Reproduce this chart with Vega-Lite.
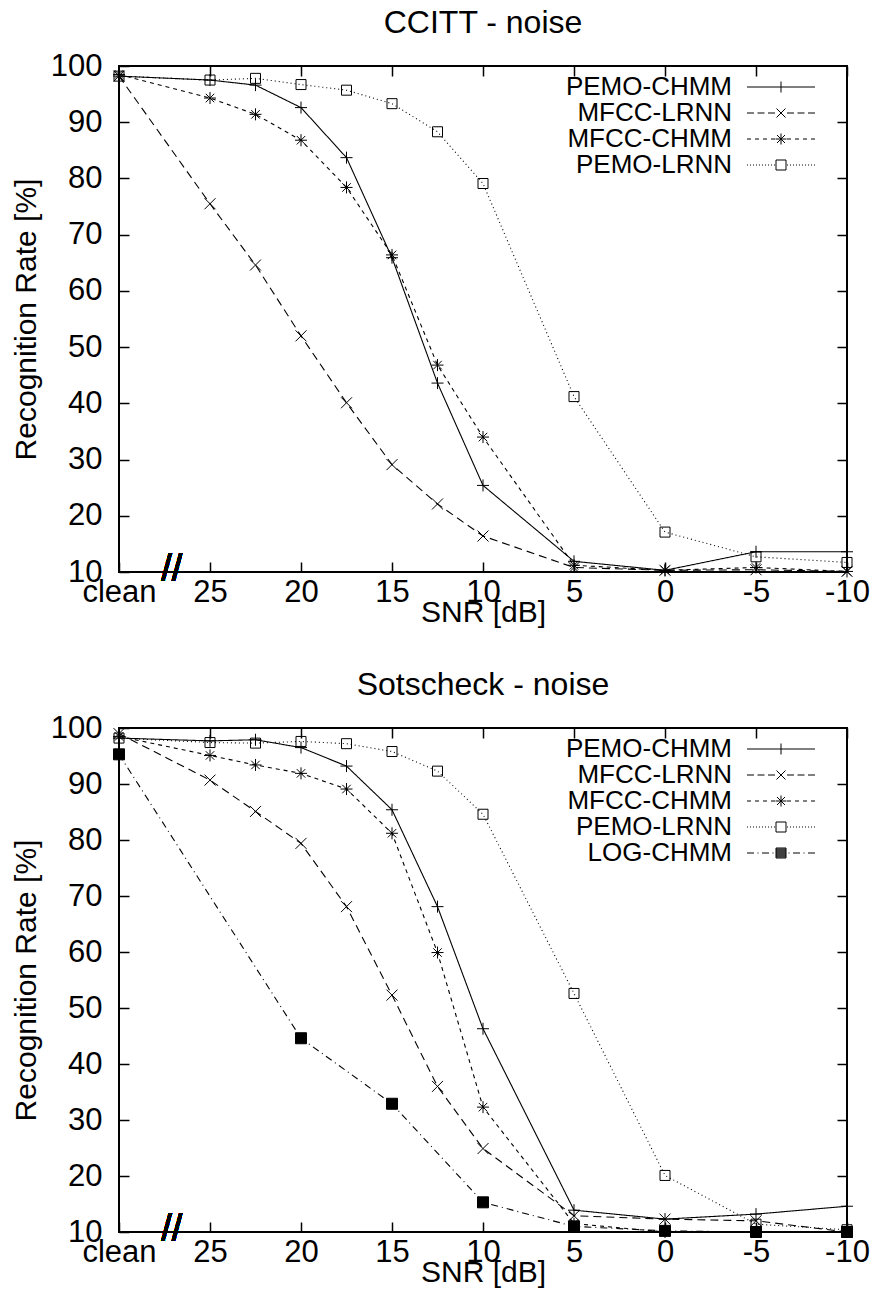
{
  "$schema": "https://vega.github.io/schema/vega-lite/v6.json",
  "padding": {"left": 10, "top": 6, "right": 10, "bottom": 5},
  "background": "white",
  "datasets": {
    "ccitt": [
      {"series": "PEMO-CHMM", "snr": 30, "rate": 98.2},
      {"series": "PEMO-CHMM", "snr": 25, "rate": 97.5},
      {"series": "PEMO-CHMM", "snr": 22.5, "rate": 96.6},
      {"series": "PEMO-CHMM", "snr": 20, "rate": 92.6},
      {"series": "PEMO-CHMM", "snr": 17.5, "rate": 83.7},
      {"series": "PEMO-CHMM", "snr": 15, "rate": 65.9},
      {"series": "PEMO-CHMM", "snr": 12.5, "rate": 43.6},
      {"series": "PEMO-CHMM", "snr": 10, "rate": 25.4},
      {"series": "PEMO-CHMM", "snr": 5, "rate": 11.9},
      {"series": "PEMO-CHMM", "snr": 0, "rate": 10.3},
      {"series": "PEMO-CHMM", "snr": -5, "rate": 13.6},
      {"series": "PEMO-CHMM", "snr": -10, "rate": 13.6},
      {"series": "MFCC-LRNN", "snr": 30, "rate": 98.2},
      {"series": "MFCC-LRNN", "snr": 25, "rate": 75.5},
      {"series": "MFCC-LRNN", "snr": 22.5, "rate": 64.6},
      {"series": "MFCC-LRNN", "snr": 20, "rate": 52.0},
      {"series": "MFCC-LRNN", "snr": 17.5, "rate": 40.1},
      {"series": "MFCC-LRNN", "snr": 15, "rate": 29.1},
      {"series": "MFCC-LRNN", "snr": 12.5, "rate": 22.1},
      {"series": "MFCC-LRNN", "snr": 10, "rate": 16.4},
      {"series": "MFCC-LRNN", "snr": 5, "rate": 10.8},
      {"series": "MFCC-LRNN", "snr": 0, "rate": 10.3},
      {"series": "MFCC-LRNN", "snr": -5, "rate": 10.4},
      {"series": "MFCC-LRNN", "snr": -10, "rate": 10.1},
      {"series": "MFCC-CHMM", "snr": 30, "rate": 98.5},
      {"series": "MFCC-CHMM", "snr": 25, "rate": 94.3},
      {"series": "MFCC-CHMM", "snr": 22.5, "rate": 91.4},
      {"series": "MFCC-CHMM", "snr": 20, "rate": 86.8},
      {"series": "MFCC-CHMM", "snr": 17.5, "rate": 78.4},
      {"series": "MFCC-CHMM", "snr": 15, "rate": 66.4},
      {"series": "MFCC-CHMM", "snr": 12.5, "rate": 46.8},
      {"series": "MFCC-CHMM", "snr": 10, "rate": 34.0},
      {"series": "MFCC-CHMM", "snr": 5, "rate": 11.2},
      {"series": "MFCC-CHMM", "snr": 0, "rate": 10.3},
      {"series": "MFCC-CHMM", "snr": -5, "rate": 10.8},
      {"series": "MFCC-CHMM", "snr": -10, "rate": 10.1},
      {"series": "PEMO-LRNN", "snr": 30, "rate": 98.2},
      {"series": "PEMO-LRNN", "snr": 25, "rate": 97.5},
      {"series": "PEMO-LRNN", "snr": 22.5, "rate": 97.8},
      {"series": "PEMO-LRNN", "snr": 20, "rate": 96.7},
      {"series": "PEMO-LRNN", "snr": 17.5, "rate": 95.7},
      {"series": "PEMO-LRNN", "snr": 15, "rate": 93.3},
      {"series": "PEMO-LRNN", "snr": 12.5, "rate": 88.3},
      {"series": "PEMO-LRNN", "snr": 10, "rate": 79.1},
      {"series": "PEMO-LRNN", "snr": 5, "rate": 41.2},
      {"series": "PEMO-LRNN", "snr": 0, "rate": 17.1},
      {"series": "PEMO-LRNN", "snr": -5, "rate": 12.7},
      {"series": "PEMO-LRNN", "snr": -10, "rate": 11.7}
    ],
    "sotscheck": [
      {"series": "PEMO-CHMM", "snr": 30, "rate": 98.2},
      {"series": "PEMO-CHMM", "snr": 25, "rate": 97.7},
      {"series": "PEMO-CHMM", "snr": 22.5, "rate": 97.9},
      {"series": "PEMO-CHMM", "snr": 20, "rate": 96.5},
      {"series": "PEMO-CHMM", "snr": 17.5, "rate": 93.2},
      {"series": "PEMO-CHMM", "snr": 15, "rate": 85.4},
      {"series": "PEMO-CHMM", "snr": 12.5, "rate": 68.1},
      {"series": "PEMO-CHMM", "snr": 10, "rate": 46.3},
      {"series": "PEMO-CHMM", "snr": 5, "rate": 13.9},
      {"series": "PEMO-CHMM", "snr": 0, "rate": 12.3},
      {"series": "PEMO-CHMM", "snr": -5, "rate": 13.2},
      {"series": "PEMO-CHMM", "snr": -10, "rate": 14.6},
      {"series": "MFCC-LRNN", "snr": 30, "rate": 99.0},
      {"series": "MFCC-LRNN", "snr": 25, "rate": 90.7},
      {"series": "MFCC-LRNN", "snr": 22.5, "rate": 85.1},
      {"series": "MFCC-LRNN", "snr": 20, "rate": 79.4},
      {"series": "MFCC-LRNN", "snr": 17.5, "rate": 68.1},
      {"series": "MFCC-LRNN", "snr": 15, "rate": 52.3},
      {"series": "MFCC-LRNN", "snr": 12.5, "rate": 36.0},
      {"series": "MFCC-LRNN", "snr": 10, "rate": 24.9},
      {"series": "MFCC-LRNN", "snr": 5, "rate": 12.9},
      {"series": "MFCC-LRNN", "snr": 0, "rate": 12.3},
      {"series": "MFCC-LRNN", "snr": -5, "rate": 12.0},
      {"series": "MFCC-LRNN", "snr": -10, "rate": 10.0},
      {"series": "MFCC-CHMM", "snr": 30, "rate": 98.5},
      {"series": "MFCC-CHMM", "snr": 25, "rate": 95.1},
      {"series": "MFCC-CHMM", "snr": 22.5, "rate": 93.4},
      {"series": "MFCC-CHMM", "snr": 20, "rate": 91.9},
      {"series": "MFCC-CHMM", "snr": 17.5, "rate": 89.1},
      {"series": "MFCC-CHMM", "snr": 15, "rate": 81.2},
      {"series": "MFCC-CHMM", "snr": 12.5, "rate": 59.9},
      {"series": "MFCC-CHMM", "snr": 10, "rate": 32.3},
      {"series": "MFCC-CHMM", "snr": 5, "rate": 11.5},
      {"series": "MFCC-CHMM", "snr": 0, "rate": 10.0},
      {"series": "MFCC-CHMM", "snr": -5, "rate": 10.0},
      {"series": "MFCC-CHMM", "snr": -10, "rate": 10.0},
      {"series": "PEMO-LRNN", "snr": 30, "rate": 98.2},
      {"series": "PEMO-LRNN", "snr": 25, "rate": 97.4},
      {"series": "PEMO-LRNN", "snr": 22.5, "rate": 97.3},
      {"series": "PEMO-LRNN", "snr": 20, "rate": 97.6},
      {"series": "PEMO-LRNN", "snr": 17.5, "rate": 97.2},
      {"series": "PEMO-LRNN", "snr": 15, "rate": 95.8},
      {"series": "PEMO-LRNN", "snr": 12.5, "rate": 92.3},
      {"series": "PEMO-LRNN", "snr": 10, "rate": 84.6},
      {"series": "PEMO-LRNN", "snr": 5, "rate": 52.6},
      {"series": "PEMO-LRNN", "snr": 0, "rate": 20.1},
      {"series": "PEMO-LRNN", "snr": -5, "rate": 11.4},
      {"series": "PEMO-LRNN", "snr": -10, "rate": 10.4},
      {"series": "LOG-CHMM", "snr": 30, "rate": 95.3},
      {"series": "LOG-CHMM", "snr": 20, "rate": 44.6},
      {"series": "LOG-CHMM", "snr": 15, "rate": 32.9},
      {"series": "LOG-CHMM", "snr": 10, "rate": 15.3},
      {"series": "LOG-CHMM", "snr": 5, "rate": 11.0},
      {"series": "LOG-CHMM", "snr": 0, "rate": 10.2},
      {"series": "LOG-CHMM", "snr": -5, "rate": 10.0},
      {"series": "LOG-CHMM", "snr": -10, "rate": 10.0}
    ]
  },
  "vconcat": [
    {
      "title": {"text": "CCITT - noise", "offset": -15, "baseline": "alphabetic"},
      "width": 728,
      "height": 506,
      "data": {"name": "ccitt"},
      "layer": [
        {
          "mark": {"type": "line", "color": "black", "strokeWidth": 1.1},
          "encoding": {
            "x": {"field": "snr", "type": "quantitative", "scale": {"domain": [30, -10], "nice": false, "zero": false},
              "axis": {"orient": "bottom", "values": [30, 25, 20, 15, 10, 5, 0, -5, -10], "labelExpr": "datum.value == 30 ? 'clean' : toString(datum.value)", "title": "SNR [dB]", "tickSize": -10, "tickWidth": 1.5, "labelPadding": 15, "labelFontSize": 31, "titleFontSize": 30, "titlePadding": -10, "labelFlush": false, "labelOverlap": false, "minExtent": 0}},
            "y": {"field": "rate", "type": "quantitative", "scale": {"domain": [10, 100], "nice": false, "zero": false},
              "axis": {"orient": "left", "values": [10, 20, 30, 40, 50, 60, 70, 80, 90, 100], "title": "Recognition Rate [%]", "tickSize": -10, "tickWidth": 1.5, "labelPadding": 27, "labelFontSize": 31, "titleFontSize": 30, "titlePadding": 9, "labelFlush": false, "labelOverlap": false, "minExtent": 0}},
            "strokeDash": {"field": "series", "type": "nominal", "legend": null,
              "scale": {"domain": ["PEMO-CHMM", "MFCC-LRNN", "MFCC-CHMM", "PEMO-LRNN"], "range": [[1, 0], [8, 5], [4, 4], [1, 3]]}}
          }
        },
        {
          "mark": {"type": "point", "filled": false, "color": "black", "strokeWidth": 1, "size": 100, "opacity": 1},
          "encoding": {
            "x": {"field": "snr", "type": "quantitative", "axis": {"orient": "top", "values": [25, 20, 15, 10, 5, 0, -5, -10], "labels": false, "title": null, "tickSize": -10, "tickWidth": 1.5, "minExtent": 0, "maxExtent": 0}},
            "y": {"field": "rate", "type": "quantitative", "axis": {"orient": "right", "values": [20, 30, 40, 50, 60, 70, 80, 90], "labels": false, "title": null, "tickSize": -10, "tickWidth": 1.5, "minExtent": 0, "maxExtent": 0}},
            "shape": {"field": "series", "type": "nominal", "legend": null,
              "scale": {"domain": ["PEMO-CHMM", "MFCC-LRNN", "MFCC-CHMM", "PEMO-LRNN"],
                "range": ["M-1.2,0H1.2M0,-1.2V1.2", "M-1.1,-1.1L1.1,1.1M-1.1,1.1L1.1,-1.1", "M-1.2,0H1.2M0,-1.2V1.2M-0.85,-0.85L0.85,0.85M-0.85,0.85L0.85,-0.85", "M-1,-1H1V1H-1Z"]}}
          }
        },
        {
          "transform": [{"filter": "false"}],
          "mark": {"type": "point", "filled": false, "color": "black", "strokeWidth": 1, "opacity": 1},
          "encoding": {
            "x": {"field": "snr", "type": "quantitative", "axis": null},
            "y": {"field": "rate", "type": "quantitative", "axis": null},
            "shape": {"field": "series", "type": "nominal",
              "scale": {"domain": ["PEMO-CHMM", "MFCC-LRNN", "MFCC-CHMM", "PEMO-LRNN"],
                "range": [
                  "M-3.4,0H3.4M0,-0.55V0.55M5.6,0",
                  "M-3.4,0H-2.7M-2.35,0H-1.65M-1.3,0H-0.6M0.6,0H1.3M1.65,0H2.35M2.7,0H3.4M-0.45,-0.45L0.45,0.45M-0.45,0.45L0.45,-0.45M5.6,0",
                  "M-3.4,0H-3M-2.6,0H-2.2M-1.8,0H-1.4M-1,0H-0.6M0.6,0H1M1.4,0H1.8M2.2,0H2.6M3,0H3.4M-0.55,0H0.55M0,-0.55V0.55M-0.4,-0.4L0.4,0.4M-0.4,0.4L0.4,-0.4M5.6,0",
                  "M-3.4,0h0.1M-3.1,0h0.1M-2.8,0h0.1M-2.5,0h0.1M-2.2,0h0.1M-1.9,0h0.1M-1.6,0h0.1M-1.3,0h0.1M-1,0h0.1M-0.7,0h0.1M0.6,0h0.1M0.9,0h0.1M1.2,0h0.1M1.5,0h0.1M1.8,0h0.1M2.1,0h0.1M2.4,0h0.1M2.7,0h0.1M3,0h0.1M3.3,0h0.1M-0.5,-0.5H0.5V0.5H-0.5ZM5.6,0"
                ]},
              "legend": {"orient": "top-right", "offset": 8, "title": null, "symbolSize": 400, "symbolStrokeWidth": 1, "symbolStrokeColor": "black", "labelFontSize": 26, "labelAlign": "right", "labelOffset": -62, "rowPadding": -3, "padding": 0, "labelLimit": 0, "labelColor": "black"}}
          }
        },
        {
          "mark": {"type": "text", "text": "//", "fontSize": 38, "color": "black", "baseline": "middle", "align": "center", "dy": -2},
          "encoding": {
            "x": {"datum": 27.1, "type": "quantitative", "axis": null},
            "y": {"datum": 10, "type": "quantitative", "axis": null}
          }
        }
      ],
      "resolve": {"scale": {"shape": "independent"}, "axis": {"x": "independent", "y": "independent"}, "legend": {"shape": "independent"}}
    },
    {
      "title": {"text": "Sotscheck - noise", "offset": -15, "baseline": "alphabetic"},
      "width": 728,
      "height": 504,
      "data": {"name": "sotscheck"},
      "layer": [
        {
          "mark": {"type": "line", "color": "black", "strokeWidth": 1.1},
          "encoding": {
            "x": {"field": "snr", "type": "quantitative", "scale": {"domain": [30, -10], "nice": false, "zero": false},
              "axis": {"orient": "bottom", "values": [30, 25, 20, 15, 10, 5, 0, -5, -10], "labelExpr": "datum.value == 30 ? 'clean' : toString(datum.value)", "title": "SNR [dB]", "tickSize": -10, "tickWidth": 1.5, "labelPadding": 15, "labelFontSize": 31, "titleFontSize": 30, "titlePadding": -10, "labelFlush": false, "labelOverlap": false, "minExtent": 0}},
            "y": {"field": "rate", "type": "quantitative", "scale": {"domain": [10, 100], "nice": false, "zero": false},
              "axis": {"orient": "left", "values": [10, 20, 30, 40, 50, 60, 70, 80, 90, 100], "title": "Recognition Rate [%]", "tickSize": -10, "tickWidth": 1.5, "labelPadding": 27, "labelFontSize": 31, "titleFontSize": 30, "titlePadding": 9, "labelFlush": false, "labelOverlap": false, "minExtent": 0}},
            "strokeDash": {"field": "series", "type": "nominal", "legend": null,
              "scale": {"domain": ["PEMO-CHMM", "MFCC-LRNN", "MFCC-CHMM", "PEMO-LRNN", "LOG-CHMM"], "range": [[1, 0], [8, 5], [4, 4], [1, 3], [7, 4, 1, 4]]}}
          }
        },
        {
          "mark": {"type": "point", "filled": false, "color": "black", "strokeWidth": 1, "size": 100, "opacity": 1},
          "encoding": {
            "x": {"field": "snr", "type": "quantitative", "axis": {"orient": "top", "values": [25, 20, 15, 10, 5, 0, -5, -10], "labels": false, "title": null, "tickSize": -10, "tickWidth": 1.5, "minExtent": 0, "maxExtent": 0}},
            "y": {"field": "rate", "type": "quantitative", "axis": {"orient": "right", "values": [20, 30, 40, 50, 60, 70, 80, 90], "labels": false, "title": null, "tickSize": -10, "tickWidth": 1.5, "minExtent": 0, "maxExtent": 0}},
            "shape": {"field": "series", "type": "nominal", "legend": null,
              "scale": {"domain": ["PEMO-CHMM", "MFCC-LRNN", "MFCC-CHMM", "PEMO-LRNN", "LOG-CHMM"],
                "range": ["M-1.2,0H1.2M0,-1.2V1.2", "M-1.1,-1.1L1.1,1.1M-1.1,1.1L1.1,-1.1", "M-1.2,0H1.2M0,-1.2V1.2M-0.85,-0.85L0.85,0.85M-0.85,0.85L0.85,-0.85", "M-1,-1H1V1H-1Z", "M-1.1,-1.1H1.1V1.1H-1.1Z"]}},
            "fill": {"field": "series", "type": "nominal", "legend": null,
              "scale": {"domain": ["PEMO-CHMM", "MFCC-LRNN", "MFCC-CHMM", "PEMO-LRNN", "LOG-CHMM"], "range": ["transparent", "transparent", "transparent", "transparent", "black"]}}
          }
        },
        {
          "transform": [{"filter": "false"}],
          "mark": {"type": "point", "filled": false, "color": "black", "strokeWidth": 1, "opacity": 1},
          "encoding": {
            "x": {"field": "snr", "type": "quantitative", "axis": null},
            "y": {"field": "rate", "type": "quantitative", "axis": null},
            "shape": {"field": "series", "type": "nominal",
              "scale": {"domain": ["PEMO-CHMM", "MFCC-LRNN", "MFCC-CHMM", "PEMO-LRNN", "LOG-CHMM"],
                "range": [
                  "M-3.4,0H3.4M0,-0.55V0.55M5.6,0",
                  "M-3.4,0H-2.7M-2.35,0H-1.65M-1.3,0H-0.6M0.6,0H1.3M1.65,0H2.35M2.7,0H3.4M-0.45,-0.45L0.45,0.45M-0.45,0.45L0.45,-0.45M5.6,0",
                  "M-3.4,0H-3M-2.6,0H-2.2M-1.8,0H-1.4M-1,0H-0.6M0.6,0H1M1.4,0H1.8M2.2,0H2.6M3,0H3.4M-0.55,0H0.55M0,-0.55V0.55M-0.4,-0.4L0.4,0.4M-0.4,0.4L0.4,-0.4M5.6,0",
                  "M-3.4,0h0.1M-3.1,0h0.1M-2.8,0h0.1M-2.5,0h0.1M-2.2,0h0.1M-1.9,0h0.1M-1.6,0h0.1M-1.3,0h0.1M-1,0h0.1M-0.7,0h0.1M0.6,0h0.1M0.9,0h0.1M1.2,0h0.1M1.5,0h0.1M1.8,0h0.1M2.1,0h0.1M2.4,0h0.1M2.7,0h0.1M3,0h0.1M3.3,0h0.1M-0.5,-0.5H0.5V0.5H-0.5ZM5.6,0",
                  "M-3.4,0H-2.7M-2.35,0H-2.25M-1.9,0H-1.2M-0.85,0H-0.75M0.75,0H0.85M1.2,0H1.9M2.25,0H2.35M2.7,0H3.4M-0.5,-0.5H0.5V0.5H-0.5ZM-0.5,-0.4H0.5M-0.5,-0.3H0.5M-0.5,-0.2H0.5M-0.5,-0.1H0.5M-0.5,0H0.5M-0.5,0.1H0.5M-0.5,0.2H0.5M-0.5,0.3H0.5M-0.5,0.4H0.5M5.6,0"
                ]},
              "legend": {"orient": "top-right", "offset": 8, "title": null, "symbolSize": 400, "symbolStrokeWidth": 1, "symbolStrokeColor": "black", "labelFontSize": 26, "labelAlign": "right", "labelOffset": -62, "rowPadding": -3, "padding": 0, "labelLimit": 0, "labelColor": "black"}}
          }
        },
        {
          "mark": {"type": "text", "text": "//", "fontSize": 38, "color": "black", "baseline": "middle", "align": "center", "dy": -2},
          "encoding": {
            "x": {"datum": 27.1, "type": "quantitative", "axis": null},
            "y": {"datum": 10, "type": "quantitative", "axis": null}
          }
        }
      ],
      "resolve": {"scale": {"shape": "independent", "fill": "independent"}, "axis": {"x": "independent", "y": "independent"}, "legend": {"shape": "independent"}}
    }
  ],
  "spacing": 40,
  "resolve": {"scale": {"x": "independent", "y": "independent", "shape": "independent", "strokeDash": "independent", "fill": "independent"}, "legend": {"shape": "independent", "strokeDash": "independent", "fill": "independent"}},
  "config": {
    "font": "Liberation Sans",
    "view": {"stroke": "black", "strokeWidth": 2},
    "axis": {"labelColor": "black", "titleColor": "black", "tickColor": "black", "titleFontWeight": "normal", "grid": false, "domain": false, "labelFont": "Liberation Sans", "titleFont": "Liberation Sans"},
    "title": {"fontSize": 32, "fontWeight": "normal", "color": "black", "font": "Liberation Sans"},
    "legend": {"labelFont": "Liberation Sans"}
  }
}
